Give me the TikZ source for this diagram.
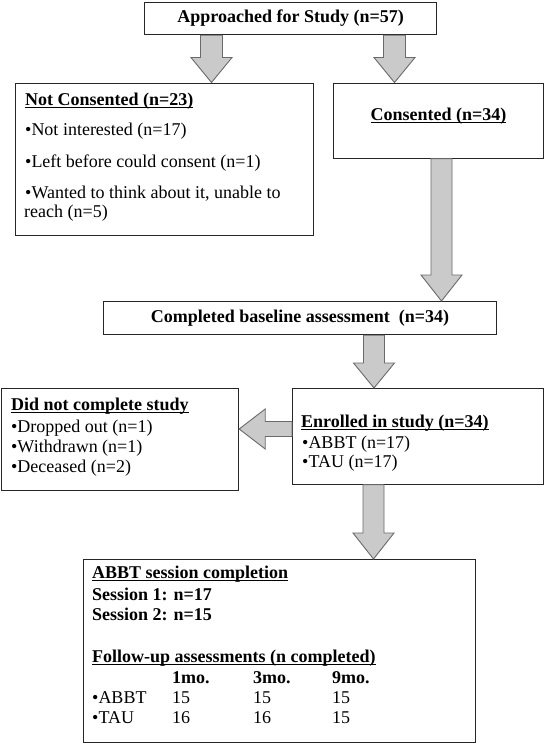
\documentclass[tikz,border=0pt]{standalone}
\usepackage{fontspec}
\setmainfont{Liberation Serif}
\usetikzlibrary{calc}
\definecolor{bordc}{HTML}{262626}
\definecolor{arrfill}{HTML}{CACACA}
\definecolor{arrline}{HTML}{6A6A6A}
\newcommand{\myul}[1]{\setbox0\hbox{#1}\rlap{\rule[-2.6pt]{\wd0}{1.2pt}}\box0}
% vertical block arrow: x, from, to, shaft half, head half, head length
\newcommand{\vblockarrow}[6]{%
  \draw[barrow] let \p1=(#2), \p2=(#3) in
  ({#1pt-#4pt},\y1) -- ({#1pt+#4pt},\y1) -- ({#1pt+#4pt},{\y2+#6pt}) -- ({#1pt+#5pt},{\y2+#6pt})
  -- (#1pt,\y2) -- ({#1pt-#5pt},{\y2+#6pt}) -- ({#1pt-#4pt},{\y2+#6pt}) -- cycle;}
% horizontal block arrow pointing left: y, from (right), to (left), shaft half, head half, head length
\newcommand{\hblockarrow}[6]{%
  \draw[barrow] let \p1=(#2), \p2=(#3) in
  (\x1,{-#1pt+#4pt}) -- ({\x2+#6pt},{-#1pt+#4pt}) -- ({\x2+#6pt},{-#1pt+#5pt}) -- (\x2,-#1pt)
  -- ({\x2+#6pt},{-#1pt-#5pt}) -- ({\x2+#6pt},{-#1pt-#4pt}) -- (\x1,{-#1pt-#4pt}) -- cycle;}
\tikzset{
  box/.style={draw=bordc, line width=1.2pt, fill=white, rectangle, inner sep=0pt, anchor=north west},
  barrow/.style={draw=arrline, line width=0.9pt, fill=arrfill, line join=miter},
  txt/.style={anchor=base west, inner sep=0pt, font=\fontsize{18}{21}\selectfont},
  ctxt/.style={anchor=center, inner sep=0pt, font=\fontsize{18}{21}\selectfont\bfseries}
}
\begin{document}
\begin{tikzpicture}[x=1pt,y=-1pt]
\useasboundingbox[fill=white] (0,0) rectangle (545,750);
% boxes
\node[box, minimum width=292pt, minimum height=32pt] (app) at (144,2) {};
\node[box, minimum width=298pt, minimum height=152pt] (notc) at (15,82.5) {};
\node[box, minimum width=210pt, minimum height=75pt] (cons) at (333,82.5) {};
\node[box, minimum width=393pt, minimum height=33pt] (base) at (103,301) {};
\node[box, minimum width=237pt, minimum height=102pt] (dnc) at (1,388) {};
\node[box, minimum width=251pt, minimum height=95.5pt] (enr) at (292,388) {};
\node[box, minimum width=392pt, minimum height=183pt] (fin) at (83,559) {};
% arrows
\vblockarrow{211.5}{app.south}{notc.north}{11}{20.5}{25}
\vblockarrow{394.5}{app.south}{cons.north}{11}{20.5}{25}
\vblockarrow{441.5}{cons.south}{base.north}{10.5}{20.5}{26}
\vblockarrow{374}{base.south}{enr.north}{10.5}{20.5}{25}
\vblockarrow{373.5}{enr.south}{fin.north}{10.5}{20.5}{26}
\hblockarrow{429}{enr.west}{dnc.east}{7.5}{20}{26}
% texts
\node[ctxt] (tapp) at (app.center) {Approached for Study (n=57)};
\node[txt, font=\fontsize{18}{21}\selectfont\bfseries] (tnc0) at (25,105.5) {\myul{Not Consented (n=23)}};
\node[txt] (tnc1) at (25,135.5) {•Not interested (n=17)};
\node[txt] (tnc2) at (25,167.5) {•Left before could consent (n=1)};
\node[txt] (tnc3) at (25,198.5) {•Wanted to think about it, unable to};
\node[txt] (tnc4) at (24,217.5) {reach (n=5)};
\node[txt, anchor=base, font=\fontsize{18}{21}\selectfont\bfseries] (tcons) at (438.6,120.5) {\myul{Consented (n=34)}};
\node[ctxt] (tbase) at (base.center) {Completed baseline assessment\ \ (n=34)};
\node[txt, font=\fontsize{18}{21}\selectfont\bfseries] (tdnc0) at (11,410.5) {\myul{Did not complete study}};
\node[txt] (tdnc1) at (11,432.5) {•Dropped out (n=1)};
\node[txt] (tdnc2) at (11,452.5) {•Withdrawn (n=1)};
\node[txt] (tdnc3) at (11,472.5) {•Deceased (n=2)};
\node[txt, font=\fontsize{18}{21}\selectfont\bfseries] (tenr0) at (301,427.5) {\myul{Enrolled in study (n=34)}};
\node[txt] (tenr1) at (302,448.5) {•ABBT (n=17)};
\node[txt] (tenr2) at (302,467.5) {•TAU (n=17)};
\node[txt, font=\fontsize{18}{21}\selectfont\bfseries] (tfin0) at (92,578.5) {\myul{ABBT session completion}};
\node[txt, font=\fontsize{18}{21}\selectfont\bfseries] (tfin1) at (92,600.5) {Session 1: n=17};
\node[txt, font=\fontsize{18}{21}\selectfont\bfseries] (tfin2) at (92,620.5) {Session 2: n=15};
\node[txt, font=\fontsize{18}{21}\selectfont\bfseries] (tfin3) at (92,662.5) {\myul{Follow-up assessments (n completed)}};
\node[txt, font=\fontsize{18}{21}\selectfont\bfseries] (th1) at (172,683.5) {1mo.};
\node[txt, font=\fontsize{18}{21}\selectfont\bfseries] (th3) at (253,683.5) {3mo.};
\node[txt, font=\fontsize{18}{21}\selectfont\bfseries] (th9) at (332,683.5) {9mo.};
\node[txt] (ra) at (92,703.5) {•ABBT};
\node[txt] (ra1) at (172,703.5) {15};
\node[txt] (ra3) at (253,703.5) {15};
\node[txt] (ra9) at (332,703.5) {15};
\node[txt] (rt) at (92,723.5) {•TAU};
\node[txt] (rt1) at (172,723.5) {16};
\node[txt] (rt3) at (253,723.5) {16};
\node[txt] (rt9) at (332,723.5) {15};
\end{tikzpicture}
\end{document}
